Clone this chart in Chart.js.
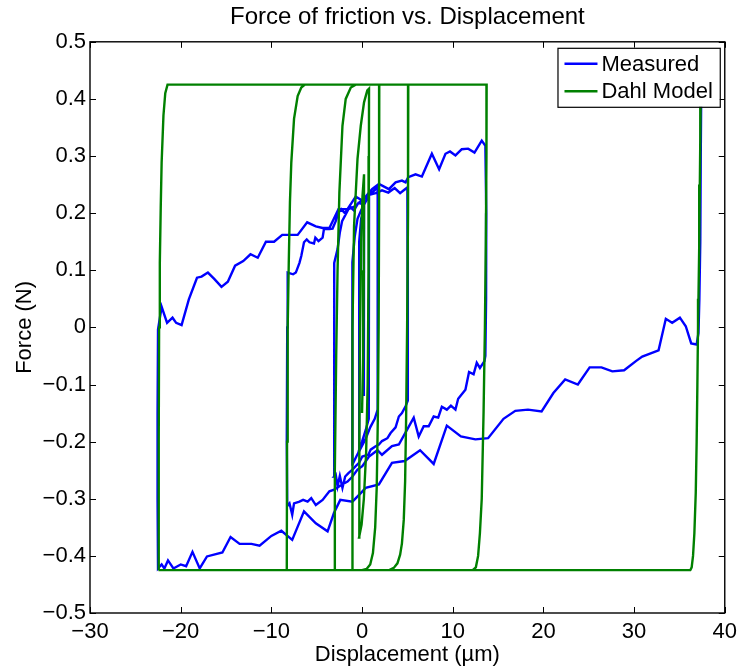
<!DOCTYPE html>
<html>
<head>
<meta charset="utf-8">
<title>Force of friction vs. Displacement</title>
<script src="https://cdn.jsdelivr.net/npm/chart.js@4.4.1/dist/chart.umd.min.js"></script>
<style>
    html, body { margin: 0; padding: 0; background: #fff; }
</style>
</head>
<body>
<canvas id="myChart" width="743" height="670"></canvas>
<script>
const TITLE = 'Force of friction vs. Displacement';
const X_LABEL = 'Displacement (\u00b5m)';
const Y_LABEL = 'Force (N)';
const SERIES_NAMES = ['Measured', 'Dahl Model'];
const xTicks = [-30, -20, -10, 0, 10, 20, 30, 40];
const yTicks = [-0.5, -0.4, -0.3, -0.2, -0.1, 0, 0.1, 0.2, 0.3, 0.4, 0.5];

// measured force, [displacement um, force N], in time order
const measured = [
    [37.4, 0.40], [37.35, 0.30], [37.3, 0.15], [37.2, 0.05], [37.1, -0.01], [36.9, -0.03],
    [36.3, -0.028], [35.7, 0.002], [35.05, 0.017], [34.2, 0.008], [33.5, 0.015], [32.7, -0.040],
    [30.9, -0.051], [30.2, -0.059], [28.9, -0.075], [27.6, -0.077], [26.4, -0.070], [25.1, -0.070],
    [23.8, -0.100], [22.4, -0.091], [21.1, -0.115], [19.8, -0.147], [18.3, -0.144], [16.9, -0.146],
    [15.6, -0.160], [13.9, -0.194], [12.5, -0.196], [10.9, -0.191], [9.35, -0.172], [7.9, -0.239],
    [6.4, -0.215], [4.7, -0.234], [3.3, -0.237], [1.86, -0.275], [0.4, -0.281], [-0.14, -0.290],
    [-1.06, -0.305], [-2.4, -0.302], [-3.1, -0.325], [-3.8, -0.357], [-5.1, -0.343], [-6.4, -0.322],
    [-7.7, -0.372], [-8.9, -0.356], [-10.0, -0.365], [-11.3, -0.382], [-12.2, -0.379], [-13.5, -0.379],
    [-14.5, -0.367], [-15.4, -0.394], [-17.1, -0.401], [-17.9, -0.422], [-18.7, -0.393], [-19.4, -0.418],
    [-20.0, -0.415], [-20.8, -0.422], [-21.4, -0.408], [-21.8, -0.422], [-22.1, -0.415], [-22.5, -0.422],
    [-22.55, -0.30], [-22.55, -0.15], [-22.5, -0.004],
    [-22.1, 0.036], [-21.5, 0.008], [-20.9, 0.017], [-20.5, 0.008], [-19.9, 0.004], [-19.1, 0.049],
    [-18.2, 0.087], [-17.7, 0.089], [-17.0, 0.096], [-16.3, 0.085], [-15.5, 0.071], [-14.8, 0.080],
    [-14.0, 0.108], [-13.1, 0.116], [-12.3, 0.128], [-11.5, 0.122], [-10.6, 0.150], [-9.7, 0.150],
    [-8.8, 0.162], [-7.1, 0.162], [-6.05, 0.184], [-5.1, 0.177], [-4.35, 0.174], [-3.6, 0.174],
    [-2.6, 0.207], [-1.6, 0.207], [-0.7, 0.229], [0.03, 0.222], [1.1, 0.242], [1.86, 0.251],
    [2.96, 0.242], [3.7, 0.254], [4.4, 0.257], [4.8, 0.254], [5.1, 0.263], [5.9, 0.268],
    [6.6, 0.264], [7.7, 0.304], [8.5, 0.277], [9.2, 0.304], [9.7, 0.308], [10.3, 0.301],
    [11.0, 0.312], [11.7, 0.313], [12.4, 0.306], [13.2, 0.327], [13.6, 0.318],
    [13.7, 0.20], [13.68, 0.05], [13.6, -0.05],
    [13.5, -0.059], [13.0, -0.071], [12.65, -0.062], [12.3, -0.082], [11.8, -0.078], [11.4, -0.109],
    [10.6, -0.125], [10.3, -0.144], [9.8, -0.137], [9.35, -0.144], [8.8, -0.139], [8.4, -0.158],
    [7.9, -0.156], [7.35, -0.173], [6.8, -0.173], [6.25, -0.191], [5.7, -0.158], [4.97, -0.179],
    [4.06, -0.205], [3.3, -0.208], [2.2, -0.223], [1.7, -0.215], [0.77, -0.226], [0.03, -0.243],
    [-0.5, -0.249], [-1.1, -0.262], [-1.6, -0.270], [-2.2, -0.275], [-3.07, -0.284], [-3.6, -0.287],
    [-4.35, -0.302], [-5.1, -0.311], [-5.6, -0.299], [-6.0, -0.305], [-6.5, -0.302], [-6.9, -0.305],
    [-7.5, -0.308], [-7.7, -0.328], [-8.0, -0.308], [-8.25, -0.313],
    [-8.3, -0.20], [-8.25, 0.0], [-8.2, 0.096],
    [-7.6, 0.093], [-7.3, 0.096], [-6.9, 0.113], [-6.7, 0.125], [-6.4, 0.149], [-6.1, 0.154],
    [-5.8, 0.149], [-5.3, 0.147], [-5.15, 0.157], [-4.8, 0.151], [-4.35, 0.157], [-4.2, 0.172],
    [-3.6, 0.172], [-3.25, 0.173], [-2.9, 0.186], [-2.6, 0.201], [-2.3, 0.207], [-1.9, 0.200],
    [-1.4, 0.212], [-0.9, 0.205], [-0.4, 0.218], [0.2, 0.215], [0.8, 0.232], [1.5, 0.235],
    [2.2, 0.240], [2.9, 0.236], [3.6, 0.244], [4.2, 0.235], [4.6, 0.240], [5.0, 0.245],
    [5.06, 0.10], [5.05, -0.05], [5.04, -0.128],
    [4.8, -0.138], [4.4, -0.150], [4.06, -0.156], [3.7, -0.175], [3.15, -0.185], [2.8, -0.194],
    [2.2, -0.199], [1.86, -0.205], [1.5, -0.208], [0.95, -0.214], [0.7, -0.223], [0.03, -0.226],
    [-0.33, -0.237], [-0.7, -0.243], [-1.06, -0.249], [-1.5, -0.255], [-1.86, -0.261], [-2.16, -0.281],
    [-2.45, -0.260], [-2.7, -0.278], [-2.9, -0.258], [-3.07, -0.261],
    [-3.08, -0.10], [-3.07, 0.05], [-3.05, 0.113],
    [-2.7, 0.137], [-2.45, 0.166], [-2.2, 0.186], [-1.5, 0.207], [-0.8, 0.212], [-0.2, 0.220],
    [0.5, 0.228], [1.1, 0.236], [1.75, 0.245],
    [1.75, 0.10], [1.72, -0.05], [1.7, -0.144],
    [1.4, -0.160], [0.9, -0.175], [0.4, -0.195], [-0.1, -0.210], [-0.6, -0.225], [-1.06, -0.240],
    [-1.07, -0.05], [-1.06, 0.114],
    [-0.8, 0.160], [-0.5, 0.190], [-0.1, 0.205], [0.4, 0.220], [0.77, 0.230],
    [0.76, 0.05], [0.74, -0.160],
    [0.4, -0.180], [0.0, -0.200], [-0.33, -0.215],
    [-0.33, 0.0], [-0.3, 0.150], [-0.1, 0.190], [0.22, 0.205],
    [0.21, 0.0], [0.2, -0.120]
];

// Dahl model force, [displacement um, force N], in time order
const dahl = [
    [37.35, 0.405], [37.3, 0.33], [37.25, 0.25], [37.18, 0.14], [37.1, 0.05], [37.05, 0.0],
    [36.98, -0.10], [36.9, -0.20], [36.8, -0.29], [36.65, -0.36], [36.5, -0.40], [36.35, -0.42],
    [36.2, -0.425],
    [-22.45, -0.425],
    [-22.42, -0.20], [-22.38, 0.0], [-22.3, 0.114], [-22.2, 0.21], [-22.1, 0.289], [-21.9, 0.371],
    [-21.7, 0.41], [-21.45, 0.425],
    [13.74, 0.425],
    [13.72, 0.30], [13.65, 0.15], [13.55, 0.0], [13.4, -0.15], [13.2, -0.30], [13.0, -0.36],
    [12.8, -0.40], [12.55, -0.42], [12.2, -0.425],
    [-8.3, -0.425],
    [-8.27, -0.20], [-8.2, 0.0], [-8.08, 0.113], [-7.95, 0.22], [-7.8, 0.289], [-7.5, 0.365],
    [-7.1, 0.405], [-6.7, 0.42], [-6.3, 0.425],
    [5.1, 0.425],
    [5.07, 0.20], [4.97, 0.0], [4.86, -0.16], [4.75, -0.27], [4.6, -0.337], [4.4, -0.378],
    [4.2, -0.398], [3.9, -0.413], [3.5, -0.421], [3.0, -0.425],
    [-3.05, -0.425],
    [-3.0, -0.25], [-2.85, -0.05], [-2.7, 0.10], [-2.5, 0.236], [-2.16, 0.353], [-1.8, 0.40],
    [-1.24, 0.42], [-0.7, 0.425],
    [1.9, 0.425],
    [1.88, 0.20], [1.83, 0.0], [1.75, -0.15], [1.62, -0.28], [1.45, -0.35], [1.2, -0.395],
    [0.9, -0.415], [0.5, -0.423], [0.0, -0.425],
    [-1.1, -0.425],
    [-1.07, -0.20], [-1.04, 0.0], [-0.88, 0.178], [-0.5, 0.295], [-0.14, 0.353], [0.22, 0.394],
    [0.58, 0.415], [0.77, 0.418],
    [0.76, 0.30], [0.72, 0.10], [0.62, -0.10], [0.45, -0.22], [0.2, -0.30], [-0.05, -0.345],
    [-0.33, -0.368],
    [-0.3, -0.20], [-0.22, 0.0], [-0.1, 0.15], [0.05, 0.23], [0.22, 0.268],
    [0.2, 0.10], [0.12, -0.05], [0.0, -0.15]
];

const SERIES_COLORS = ['#0000ff', '#008000'];
const FONT = 'Liberation Sans, Arial, Helvetica, sans-serif';

Chart.defaults.font.family = FONT;
Chart.defaults.color = '#000';

function toPoints(pairs) {
    return pairs.map(p => ({ x: p[0], y: p[1] }));
}

function minusSign(s) {
    return s.replace('-', '\u2212');
}

// MATLAB-like box with inward ticks on all four sides, plus the inset legend
const matlabAxes = {
    id: 'matlabAxes',
    afterDatasetsDraw(chart) {
        const { ctx, chartArea: a, scales } = chart;
        const tl = 6;
        ctx.save();
        ctx.strokeStyle = '#000';
        ctx.lineWidth = 1;
        ctx.beginPath();
        xTicks.forEach(v => {
            const px = Math.round(scales.x.getPixelForValue(v)) + 0.5;
            ctx.moveTo(px, a.bottom); ctx.lineTo(px, a.bottom - tl);
            ctx.moveTo(px, a.top); ctx.lineTo(px, a.top + tl);
        });
        yTicks.forEach(v => {
            const py = Math.round(scales.y.getPixelForValue(v)) + 0.5;
            ctx.moveTo(a.left, py); ctx.lineTo(a.left + tl, py);
            ctx.moveTo(a.right, py); ctx.lineTo(a.right - tl, py);
        });
        ctx.stroke();
        ctx.lineWidth = 1.4;
        ctx.strokeRect(a.left, a.top, a.right - a.left, a.bottom - a.top);
        ctx.restore();
    },
    afterDraw(chart) {
        const { ctx, chartArea: a } = chart;
        const sets = chart.data.datasets;
        ctx.save();
        ctx.font = '22px ' + FONT;
        const maxW = Math.max(...sets.map(d => ctx.measureText(d.label).width));
        const rowH = 27.5;
        const w = 44 + maxW + 7;
        const h = rowH * sets.length + 4;
        const right = a.right - 5;
        const left = right - w;
        const top = a.top + 6;
        ctx.fillStyle = '#fff';
        ctx.fillRect(left, top, w, h);
        ctx.strokeStyle = '#000';
        ctx.lineWidth = 1.2;
        ctx.strokeRect(left + 0.5, top + 0.5, w, h);
        ctx.textBaseline = 'middle';
        sets.forEach((d, i) => {
            const cy = top + 16 + i * rowH;
            ctx.strokeStyle = d.borderColor;
            ctx.lineWidth = 2.4;
            ctx.beginPath();
            ctx.moveTo(left + 7, cy);
            ctx.lineTo(left + 40, cy);
            ctx.stroke();
            ctx.fillStyle = '#000';
            ctx.fillText(d.label, left + 44, cy + 1);
        });
        ctx.restore();
    }
};

let chart = new Chart(document.getElementById('myChart'), {
    type: 'scatter',
    data: {
        datasets: [
            {
                label: SERIES_NAMES[0],
                data: toPoints(measured),
                borderColor: SERIES_COLORS[0],
                backgroundColor: SERIES_COLORS[0],
                order: 1
            },
            {
                label: SERIES_NAMES[1],
                data: toPoints(dahl),
                borderColor: SERIES_COLORS[1],
                backgroundColor: SERIES_COLORS[1],
                order: 0
            }
        ]
    },
    options: {
        responsive: false,
        animation: false,
        events: [],
        devicePixelRatio: 1,
        showLine: true,
        elements: {
            point: { radius: 0 },
            line: { borderWidth: 2.4, tension: 0, fill: false }
        },
        layout: { padding: { left: 0, right: 15, top: 0, bottom: 0 } },
        plugins: {
            legend: { display: false },
            tooltip: { enabled: false },
            title: {
                display: true,
                fullSize: false,
                text: TITLE,
                color: '#000',
                font: { size: 24, weight: 'normal' },
                padding: { top: 3, bottom: 10 }
            }
        },
        scales: {
            x: {
                type: 'linear',
                min: xTicks[0],
                max: xTicks[xTicks.length - 1],
                grid: { display: false, drawTicks: false },
                border: { display: false },
                afterFit(scale) { scale.height = 57; },
                ticks: {
                    stepSize: xTicks[1] - xTicks[0],
                    autoSkip: false,
                    maxRotation: 0,
                    padding: 6,
                    color: '#000',
                    font: { size: 22 },
                    callback: v => minusSign(String(v))
                },
                title: {
                    display: true,
                    text: X_LABEL,
                    color: '#000',
                    font: { size: 22 },
                    padding: { top: 0, bottom: 2 }
                }
            },
            y: {
                type: 'linear',
                min: yTicks[0],
                max: yTicks[yTicks.length - 1],
                grid: { display: false, drawTicks: false },
                border: { display: false },
                afterFit(scale) { scale.width = 90; },
                ticks: {
                    stepSize: 0.1,
                    autoSkip: false,
                    padding: 4,
                    color: '#000',
                    font: { size: 22 },
                    callback: v => (Math.abs(v) < 1e-9 ? '0' : minusSign(v.toFixed(1)))
                },
                title: {
                    display: true,
                    text: Y_LABEL,
                    color: '#000',
                    font: { size: 22 },
                    padding: { top: 12, bottom: 0 }
                }
            }
        }
    },
    plugins: [matlabAxes]
});
</script>
</body>
</html>
